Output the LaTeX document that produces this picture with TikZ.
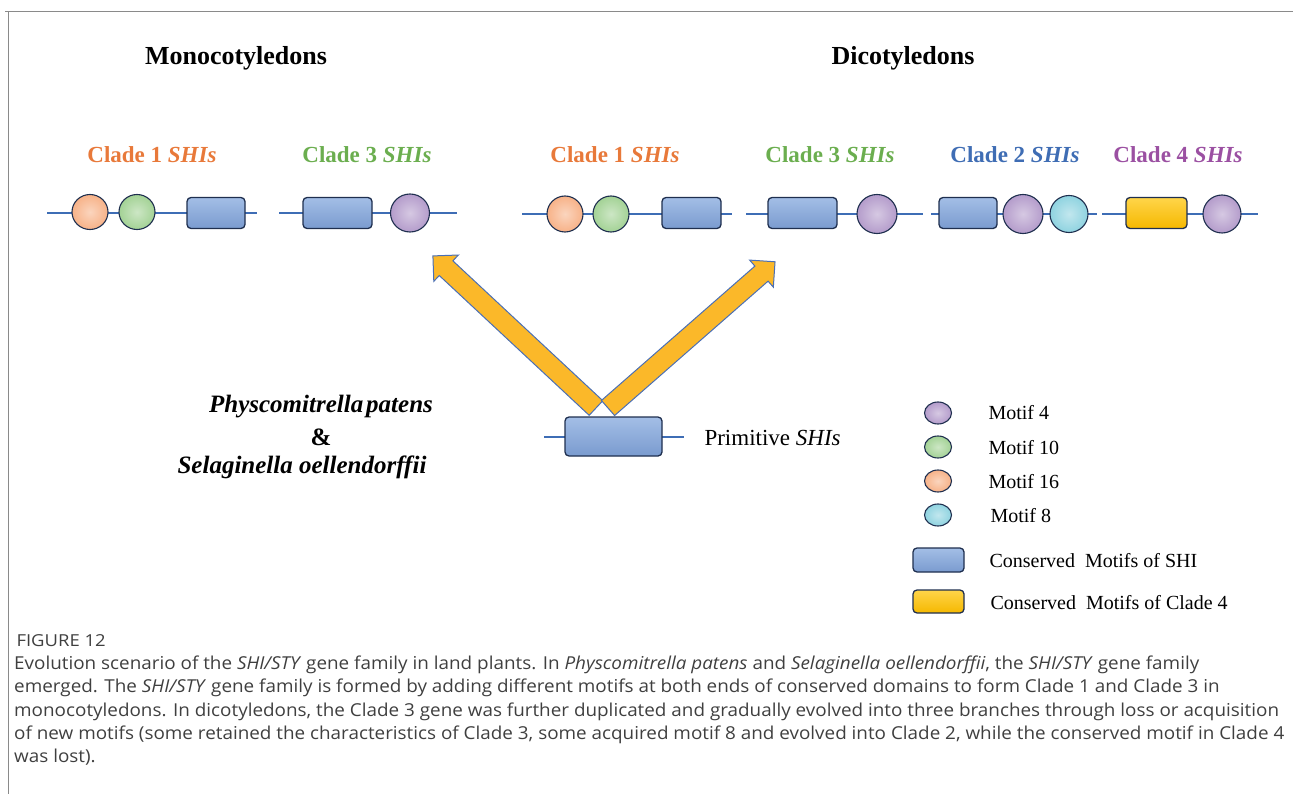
\documentclass[tikz,border=0pt]{standalone}
\usepackage{fontspec}
\setmainfont{Liberation Serif}
\newfontfamily\capfont[FakeStretch=1.06]{Open Sans}
\newfontfamily\figfont[FakeStretch=1.12]{Open Sans}
\usetikzlibrary{shapes.geometric,calc}
\definecolor{linecol}{HTML}{3E6DB5}
\definecolor{rimcol}{HTML}{1F2F4F}
\definecolor{boxtop}{HTML}{A3BEE6}
\definecolor{boxbot}{HTML}{7A9BCF}
\definecolor{yeltop}{HTML}{FFD54A}
\definecolor{yelbot}{HTML}{F5B800}
\definecolor{mOrange}{HTML}{F7B288}
\definecolor{mGreen}{HTML}{A3D295}
\definecolor{mPurple}{HTML}{B49CCB}
\definecolor{mCyan}{HTML}{8FD3E0}
\definecolor{tOrange}{HTML}{E8793A}
\definecolor{tGreen}{HTML}{6BAE4F}
\definecolor{tBlue}{HTML}{3F6DB4}
\definecolor{tPurple}{HTML}{9B50A2}
\definecolor{arrowfill}{HTML}{FBB829}
\definecolor{arrowedge}{HTML}{4A6FB5}
\definecolor{capgray}{HTML}{3F3F3F}
\definecolor{framegray}{HTML}{8A8A8A}
\tikzset{
  gline/.style={draw=linecol, line width=1.6pt},
  cbox/.style={rectangle, rounded corners=4pt, draw=rimcol, line width=1.3pt,
    top color=boxtop, bottom color=boxbot, inner sep=0pt},
  ybox/.style={rectangle, rounded corners=4pt, draw=rimcol, line width=1.3pt,
    top color=yeltop, bottom color=yelbot, inner sep=0pt},
  motif/.style={ellipse, draw=rimcol, line width=1.1pt, inner sep=0pt,
    inner color=#1!55!white, outer color=#1},
  clade/.style={font=\fontsize{23}{26}\selectfont\bfseries},
  head/.style={font=\fontsize{26}{30}\selectfont\bfseries},
  legtext/.style={anchor=west, font=\fontsize{20}{24}\selectfont},
  blockarrow/.style={fill=arrowfill, draw=arrowedge, line width=1pt, line join=miter},
}
\begin{document}
\begin{tikzpicture}[x=1pt,y=-1pt]
\useasboundingbox (0,0) rectangle (1293,794);
% frame
\coordinate (fa) at (5,12);
\coordinate (fb) at (1293,12);
\coordinate (fc) at (8,12);
\coordinate (fd) at (8,794);
\draw[framegray, line width=1pt] (fa) -- (fb);
\draw[framegray, line width=1pt] (fc) -- (fd);

% headings
\node[head] (mono) at (236,58) {Monocotyledons};
\node[head] (dico) at (903,58) {Dicotyledons};

% clade labels
\node[clade, text=tOrange] (lc1) at (152,155) {Clade 1 \textit{SHIs}};
\node[clade, text=tGreen]  (lc3) at (367,155) {Clade 3 \textit{SHIs}};
\node[clade, text=tOrange] (rc1) at (615,155) {Clade 1 \textit{SHIs}};
\node[clade, text=tGreen]  (rc3) at (830,155) {Clade 3 \textit{SHIs}};
\node[clade, text=tBlue]   (rc2) at (1015,155) {Clade 2 \textit{SHIs}};
\node[clade, text=tPurple] (rc4) at (1178,155) {Clade 4 \textit{SHIs}};

% gene lines
\coordinate (l1s) at (47,213);  \coordinate (l1e) at (257,213);
\coordinate (l3s) at (279,213); \coordinate (l3e) at (457,213);
\coordinate (r1s) at (522,214); \coordinate (r1e) at (732,214);
\coordinate (r3s) at (746,214); \coordinate (r3e) at (923,214);
\coordinate (r2s) at (931,214); \coordinate (r2e) at (1097,214);
\coordinate (r4s) at (1102,214);\coordinate (r4e) at (1258,214);
\coordinate (ps) at (544,437);  \coordinate (pe) at (684,437);
\foreach \a/\b in {l1s/l1e,l3s/l3e,r1s/r1e,r3s/r3e,r2s/r2e,r4s/r4e,ps/pe}
  \draw[gline] (\a) -- (\b);

% monocot clade 1
\node[motif=mOrange, minimum width=36pt, minimum height=35pt] (lm16) at (90,212) {};
\node[motif=mGreen,  minimum width=36pt, minimum height=35pt] (lm10) at (137,212) {};
\node[cbox, minimum width=58pt, minimum height=31pt] (lbox1) at (216,213) {};
% monocot clade 3
\node[cbox, minimum width=69pt, minimum height=31pt] (lbox3) at (337.5,213) {};
\node[motif=mPurple, minimum width=39pt, minimum height=38pt] (lm4) at (410,213) {};

% dicot clade 1
\node[motif=mOrange, minimum width=36pt, minimum height=36pt] (rm16) at (565,214) {};
\node[motif=mGreen,  minimum width=36pt, minimum height=36pt] (rm10) at (611,214) {};
\node[cbox, minimum width=59pt, minimum height=31pt] (rbox1) at (691.5,213) {};
% dicot clade 3
\node[cbox, minimum width=69pt, minimum height=31pt] (rbox3) at (802.5,213) {};
\node[motif=mPurple, minimum width=40pt, minimum height=39pt] (rm4a) at (877,214) {};
% dicot clade 2
\node[cbox, minimum width=58pt, minimum height=31pt] (rbox2) at (968,213) {};
\node[motif=mPurple, minimum width=40pt, minimum height=39pt] (rm4b) at (1023,214) {};
\node[motif=mCyan,   minimum width=38pt, minimum height=37pt] (rm8) at (1069,214) {};
% dicot clade 4
\node[ybox, minimum width=61pt, minimum height=31pt] (rbox4) at (1156.5,213) {};
\node[motif=mPurple, minimum width=38pt, minimum height=38pt] (rm4c) at (1222,214) {};

% block arrows
\coordinate (baseL) at (596,408);
\coordinate (baseR) at (608,408);
\begin{scope}[shift={(baseL)}, rotate=137]
  \draw[blockarrow] (0pt,-10pt) -- (205pt,-10pt) -- (205pt,-18pt) -- (223pt,0pt)
    -- (205pt,18pt) -- (205pt,10pt) -- (0pt,10pt) -- cycle;
\end{scope}
\begin{scope}[shift={(baseR)}, rotate=41.2]
  \draw[blockarrow] (0pt,-10pt) -- (204pt,-10pt) -- (204pt,-18pt) -- (222pt,0pt)
    -- (204pt,18pt) -- (204pt,10pt) -- (0pt,10pt) -- cycle;
\end{scope}

% primitive
\node[cbox, minimum width=97pt, minimum height=39pt] (pbox) at (613.5,436.5) {};
\node[anchor=west, font=\fontsize{23}{26}\selectfont] (plab) at (701,438) {Primitive \textit{SHIs}};

% species
\node[font=\fontsize{25}{28}\selectfont\bfseries\itshape] (phy) at (321,407) {Physcomitrella\hspace{0.12em}patens};
\node[font=\fontsize{25}{28}\selectfont\bfseries] (amp) at (321,437) {\&};
\node[font=\fontsize{25}{28}\selectfont\bfseries\itshape] (sel) at (302,467) {Selaginella oellendorffii};

% legend
\node[motif=mPurple, minimum width=27pt, minimum height=22pt] (k4) at (938,413) {};
\node[motif=mGreen,  minimum width=27pt, minimum height=22pt] (k10) at (938,447) {};
\node[motif=mOrange, minimum width=27pt, minimum height=22pt] (k16) at (938,481) {};
\node[motif=mCyan,   minimum width=27pt, minimum height=22pt] (k8) at (938,515) {};
\node[cbox, minimum width=51pt, minimum height=24pt] (kb) at (938.5,560) {};
\node[ybox, minimum width=51pt, minimum height=23pt] (ky) at (938.5,601.5) {};
\node[legtext] (t4)  at (985,413) {Motif 4};
\node[legtext] (t10) at (985,448) {Motif 10};
\node[legtext] (t16) at (985,482) {Motif 16};
\node[legtext] (t8)  at (987,516) {Motif 8};
\node[legtext] (tb)  at (986,561) {Conserved\ \ Motifs of SHI};
\node[legtext] (ty)  at (987,603) {Conserved\ \ Motifs of Clade 4};

% caption
\node[anchor=base west, text=capgray, font=\figfont\fontsize{16.5}{18}\selectfont] (fig) at (13,646) {FIGURE 12};
\node[anchor=north west, align=left, inner sep=0pt, text=capgray,
      font=\capfont\fontsize{17.8}{23.1}\selectfont] (cap) at (14,656) {%
Evolution scenario of the \textit{SHI/STY} gene family in land plants. In \textit{Physcomitrella patens} and \textit{Selaginella oellendorffii}, the \textit{SHI/STY} gene family\\
emerged. The \textit{SHI/STY} gene family is formed by adding different motifs at both ends of conserved domains to form Clade 1 and Clade 3 in\\
monocotyledons. In dicotyledons, the Clade 3 gene was further duplicated and gradually evolved into three branches through loss or acquisition\\
of new motifs (some retained the characteristics of Clade 3, some acquired motif 8 and evolved into Clade 2, while the conserved motif in Clade 4\\
was lost).};
\end{tikzpicture}
\end{document}
